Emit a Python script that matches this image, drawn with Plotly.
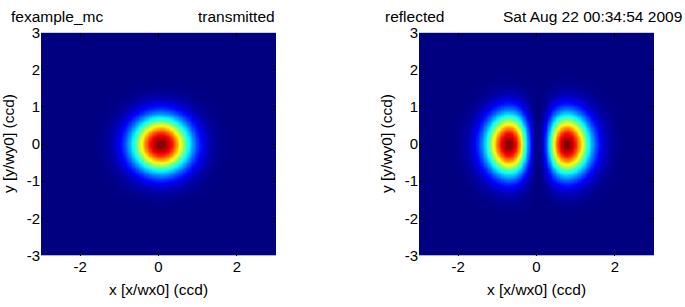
import numpy as np
import plotly.graph_objects as go

# ---- data (beam model parameters) ----
x_vals = np.linspace(-3, 3, 181)          # x [x/wx0] grid
y_vals = np.linspace(-3, 3, 181)          # y [y/wy0] grid
trans_center = [0.05, 0.0]                # transmitted beam centre (x, y)
trans_waist = [1.02, 1.02]                # transmitted beam waist (x, y)
refl_center = [0.025, 0.0]                # reflected beam centre (x, y)
refl_waist = [1.05, 1.12]                 # reflected beam waist (x, y)
refl_power = 2.0                          # shape exponent of the reflected lobes
x_ticks = [-2, 0, 2]
y_ticks = [-3, -2, -1, 0, 1, 2, 3]

X, Y = np.meshgrid(x_vals, y_vals)
Xt = (X - trans_center[0]) / trans_waist[0]
Yt = (Y - trans_center[1]) / trans_waist[1]
z_trans = np.exp(-2 * (Xt**2 + Yt**2))
Xr = (X - refl_center[0]) / refl_waist[0]
Yr = (Y - refl_center[1]) / refl_waist[1]
z_refl = np.abs(Xr) ** refl_power * np.exp(-2 * (Xr**2 + Yr**2))
z_refl = z_refl / z_refl.max()

jet = [[0.0, "rgb(0,0,128)"], [0.125, "rgb(0,0,255)"], [0.375, "rgb(0,255,255)"],
       [0.625, "rgb(255,255,0)"], [0.875, "rgb(255,0,0)"], [1.0, "rgb(128,0,0)"]]

W, H = 685, 307
FONT = "Liberation Sans, Arial, sans-serif"
FS = 15.5

fig = go.Figure()
fig.add_trace(go.Heatmap(x=x_vals, y=y_vals, z=z_trans, colorscale=jet, zsmooth="best",
                         showscale=False, xaxis="x", yaxis="y", hoverinfo="skip"))
fig.add_trace(go.Heatmap(x=x_vals, y=y_vals, z=z_refl, colorscale=jet, zsmooth="best",
                         showscale=False, xaxis="x2", yaxis="y2", hoverinfo="skip"))

def px(v):
    return v / W

def py(v):
    return 1 - v / H

axis_common = dict(range=[-3, 3], showgrid=False, zeroline=False, ticks="inside",
                   ticklen=4, tickcolor="black", mirror="ticks", showline=False,
                   tickfont=dict(family=FONT, size=15, color="black"))

fig.update_layout(
    width=W, height=H, margin=dict(l=0, r=0, t=0, b=0),
    paper_bgcolor="white", plot_bgcolor="white",
    showlegend=False,
    xaxis=dict(domain=[px(41), px(276)], anchor="y", tickvals=x_ticks,
               ticktext=[str(v) for v in x_ticks], **axis_common),
    yaxis=dict(domain=[py(261), py(25)], anchor="x", tickvals=y_ticks,
               ticktext=[str(v) for v in y_ticks], **axis_common),
    xaxis2=dict(domain=[px(419), px(654)], anchor="y2", tickvals=x_ticks,
                ticktext=[str(v) for v in x_ticks], **axis_common),
    yaxis2=dict(domain=[py(261), py(25)], anchor="x2", tickvals=y_ticks,
                ticktext=[str(v) for v in y_ticks], **axis_common),
)

def txt(x, y, s, xanchor="center", yanchor="middle", angle=0):
    fig.add_annotation(x=px(x), y=py(y), xref="paper", yref="paper", text=s,
                       showarrow=False, xanchor=xanchor, yanchor=yanchor, textangle=angle,
                       font=dict(family=FONT, size=FS, color="black"))

txt(9, 8, "fexample_mc", xanchor="left")
txt(277, 8, "transmitted", xanchor="right")
txt(383, 8, "reflected", xanchor="left")
txt(684, 8, "Sat Aug 22 00:34:54 2009", xanchor="right")
txt(158.5, 297, "x [x/wx0] (ccd)")
txt(536.5, 297, "x [x/wx0] (ccd)")
txt(8, 143, "y [y/wy0] (ccd)", angle=-90)
txt(386, 143, "y [y/wy0] (ccd)", angle=-90)

fig.write_html("out.html", config={"displayModeBar": False},
               post_script="document.body.style.margin='0';document.body.style.padding='0';")
